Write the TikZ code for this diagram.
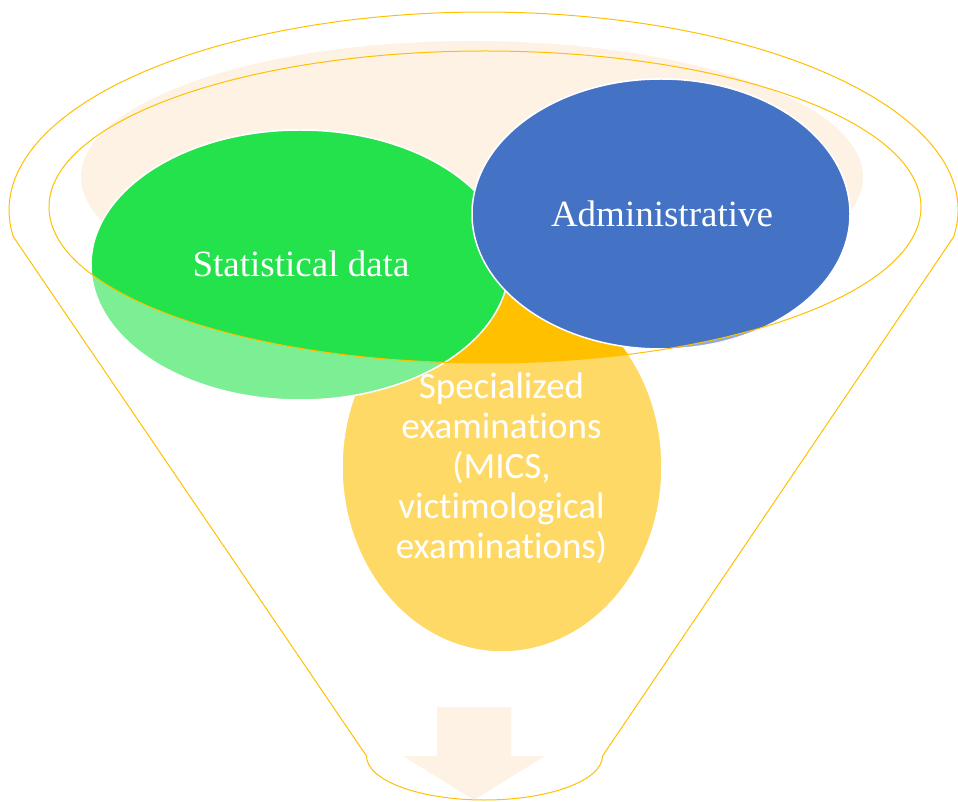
\documentclass[tikz,border=0pt]{standalone}
\usepackage{fontspec}
\setmainfont{Liberation Serif}
\newfontfamily\calibrifont[Ligatures=NoCommon]{Carlito}
\definecolor{funnelline}{HTML}{FFC000}
\definecolor{peach}{HTML}{FEF2E4}
\definecolor{statgreen}{HTML}{24E24B}
\definecolor{admblue}{HTML}{4472C4}
\definecolor{specyellow}{HTML}{FFC000}
\begin{document}
\begin{tikzpicture}[x=1pt, y=1pt,
    bubble/.style = {draw = white, line width = 1.5pt},
    rim/.style = {draw = funnelline, line width = 1pt},
    label/.style = {text = white, inner sep = 0pt, font = \fontsize{37}{40}\selectfont}]
%\draw [help lines, step = 50] (0,0) grid (958,801);
    \useasboundingbox (0,0) rectangle (958,801);
    % arrow out of the funnel
    \fill [peach] (437,94) -- (511,94) -- (511,45) -- (545,45) -- (474,1) -- (403,45) -- (437,45) -- cycle;
    \fill [peach] (472,624) circle [x radius = 391, y radius = 136];
    % funnel
    \draw [rim] (953.6,564.1) arc [start angle = -7.8, end angle = 187.8, x radius = 474.5, y radius = 198]
        -- (366.5,45) arc [start angle = 180, end angle = 360, x radius = 118, y radius = 44] -- cycle;
    % sources, below the rim
    \draw [bubble, fill = specyellow!60!white] (502,334) circle [x radius = 160, y radius = 185];
    \draw [bubble, fill = statgreen!60!white] (300,536) circle [x radius = 209, y radius = 135];
    \draw [bubble, fill = admblue!60!white] (661,587) circle [x radius = 189, y radius = 135];
    % sources, inside the rim
    \begin{scope}
        \clip (485,594) circle [x radius = 436, y radius = 156];
        \draw [bubble, fill = specyellow] (502,334) circle [x radius = 160, y radius = 185];
        \draw [bubble, fill = statgreen] (300,536) circle [x radius = 209, y radius = 135];
        \draw [bubble, fill = admblue] (661,587) circle [x radius = 189, y radius = 135];
    \end{scope}
    \draw [rim] (485,594) circle [x radius = 436, y radius = 156];
    \node [label, anchor = base] (stat) at (301,524) {Statistical data};
    \node [label, anchor = base] (admin) at (662,574) {Administrative};
    \node [label, font = \calibrifont\fontsize{37}{40}\selectfont, align = center] (spec) at (501.5,333)
        {Specialized\\examinations\\(MICS,\\victimological\\examinations)};
\end{tikzpicture}
\end{document}
